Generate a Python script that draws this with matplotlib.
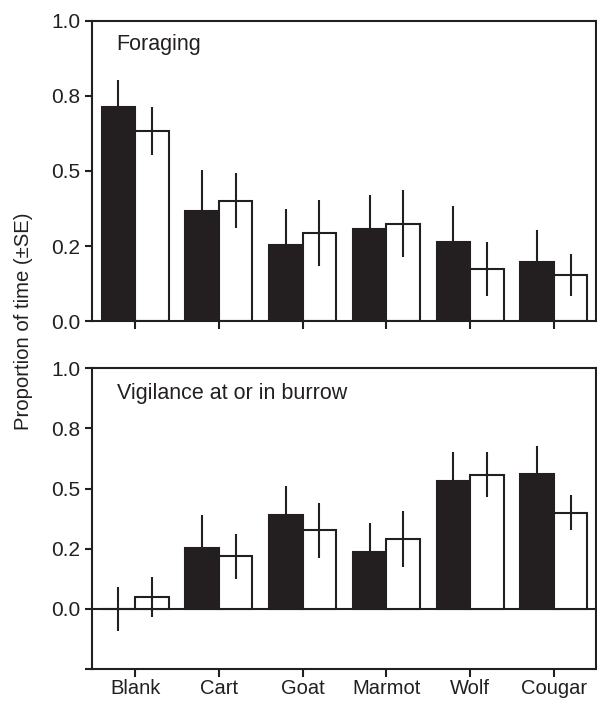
import numpy as np
import matplotlib
matplotlib.use("Agg")
import matplotlib.pyplot as plt

plt.rcParams['font.family'] = ['Liberation Sans', 'DejaVu Sans']

categories = ['Blank', 'Cart', 'Goat', 'Marmot', 'Wolf', 'Cougar']

# foraging (top panel)
forage_black = [0.712, 0.367, 0.254, 0.306, 0.263, 0.196]
forage_black_se = [0.091, 0.136, 0.119, 0.115, 0.120, 0.109]
forage_white = [0.634, 0.401, 0.295, 0.325, 0.175, 0.154]
forage_white_se = [0.080, 0.091, 0.110, 0.112, 0.090, 0.071]

# vigilance at or in burrow (bottom panel)
vig_black = [0.0, 0.251, 0.390, 0.238, 0.531, 0.561]
vig_black_se = [0.092, 0.139, 0.120, 0.120, 0.119, 0.114]
vig_white = [0.049, 0.218, 0.326, 0.290, 0.558, 0.399]
vig_white_se = [0.082, 0.094, 0.114, 0.115, 0.093, 0.073]

ink = '#231f20'
lw = 1.5
bw = 0.4

fig = plt.figure(figsize=(5.97, 7.01), dpi=100)
ax1 = fig.add_axes([0.154, 0.5417, 0.844, 0.4288])
ax2 = fig.add_axes([0.154, 0.0457, 0.844, 0.4289])

x = np.arange(len(categories))


def draw(ax, blk, blk_se, wht, wht_se):
    ax.bar(x - bw / 2, blk, bw, color=ink, edgecolor=ink, linewidth=lw, zorder=2)
    ax.bar(x + bw / 2, wht, bw, color='white', edgecolor=ink, linewidth=lw, zorder=2)
    ax.errorbar(x - bw / 2, blk, yerr=blk_se, fmt='none', ecolor=ink, elinewidth=lw, capsize=0, zorder=3)
    ax.errorbar(x + bw / 2, wht, yerr=wht_se, fmt='none', ecolor=ink, elinewidth=lw, capsize=0, zorder=3)
    ax.set_xlim(-0.515, 5.5)
    ax.set_xticks(x)
    for s in ax.spines.values():
        s.set_linewidth(lw)
        s.set_color(ink)
    ax.tick_params(direction='out', length=5, width=lw, color=ink, labelsize=15, labelcolor=ink)
    ax.tick_params(axis='x', length=6, pad=1.5, labelsize=14.5)


draw(ax1, forage_black, forage_black_se, forage_white, forage_white_se)
ax1.set_ylim(0, 1.0)
ax1.set_yticks([0, 0.25, 0.5, 0.75, 1.0])
ax1.set_yticklabels(['0.0', '0.2', '0.5', '0.8', '1.0'])
ax1.set_xticklabels([])
ax1.text(0.048, 0.92, 'Foraging', transform=ax1.transAxes, ha='left', va='center', fontsize=15.5, color=ink)

draw(ax2, vig_black, vig_black_se, vig_white, vig_white_se)
ax2.axhline(0, color=ink, linewidth=lw, zorder=1)
ax2.set_ylim(-0.25, 1.0)
ax2.set_yticks([-0.25, 0, 0.25, 0.5, 0.75, 1.0])
ax2.set_yticklabels(['', '0.0', '0.2', '0.5', '0.8', '1.0'])
ax2.set_xticklabels(categories)
ax2.text(0.049, 0.916, 'Vigilance at or in burrow', transform=ax2.transAxes, ha='left', va='center', fontsize=15.5, color=ink)

fig.text(0.040, 0.542, 'Proportion of time (\u00b1SE)', rotation=90, ha='center', va='center', fontsize=14.6, color=ink)

fig.savefig('out.png', dpi=100)
